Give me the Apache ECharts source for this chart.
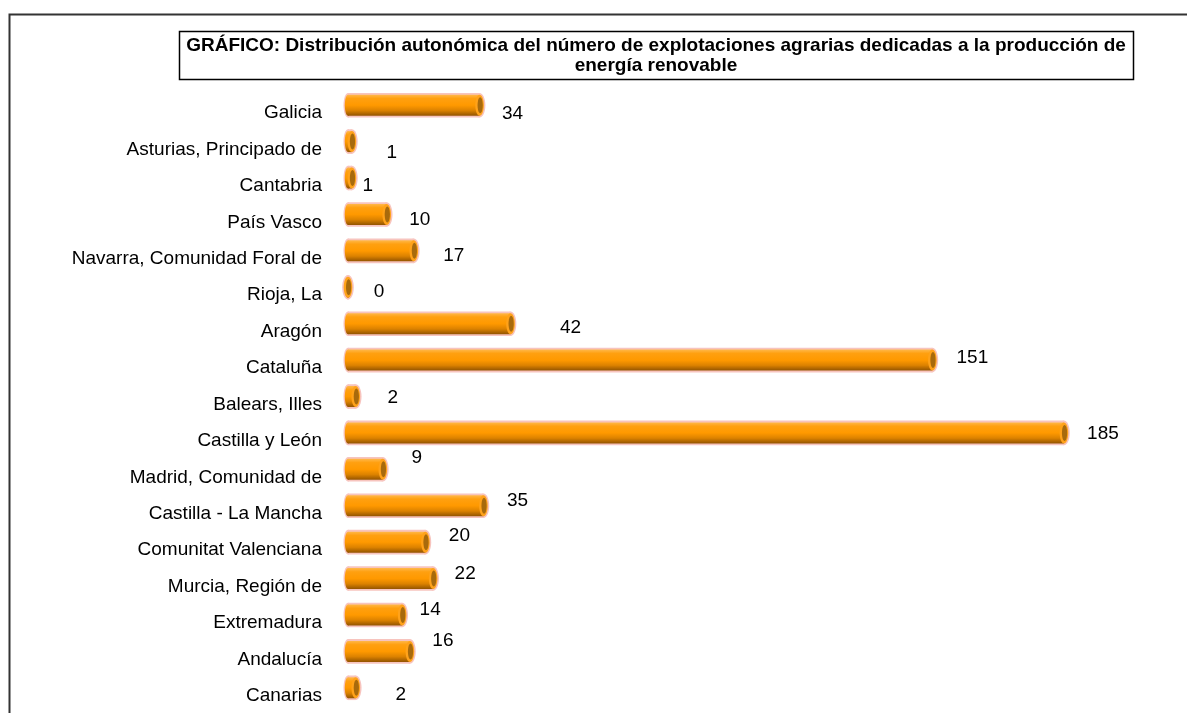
<!DOCTYPE html>
<html>
<head>
<meta charset="utf-8">
<script src="https://cdn.jsdelivr.net/npm/echarts@6/dist/echarts.min.js"></script>
<style>
html,body{margin:0;padding:0;background:#fff;}
#chart{width:1187px;height:713px;}
</style>
</head>
<body>
<div id="chart"></div>
<script>
const categories = [
  "Galicia", "Asturias, Principado de", "Cantabria", "País Vasco",
  "Navarra, Comunidad Foral de", "Rioja, La", "Aragón", "Cataluña",
  "Balears, Illes", "Castilla y León", "Madrid, Comunidad de",
  "Castilla - La Mancha", "Comunitat Valenciana", "Murcia, Región de",
  "Extremadura", "Andalucía", "Canarias"
];
const values = [34, 1, 1, 10, 17, 0, 42, 151, 2, 185, 9, 35, 20, 22, 14, 16, 2];
const titleText = "GRÁFICO: Distribución autonómica del número de explotaciones agrarias dedicadas a la producción de\nenergía renovable";

// Label nudges (dx, dy in px from the bar end) mimicking the original label placement
const labelNudges = [
  [33, 9], [40, 11], [16, 8], [33, 5], [40, 5], [31, 5], [60, 4], [40, -2],
  [37, 1], [39, 1], [34, -12], [34, -5], [34, -6], [32, -5], [28, -5], [33, -11], [45, 7]
];

const FONT = '"Liberation Sans", Arial, sans-serif';
const FS = 19;

const chart = echarts.init(document.getElementById('chart'), null, {renderer: 'canvas'});

const bodyGrad = new echarts.graphic.LinearGradient(0, 0, 0, 1, [
  {offset: 0, color: '#FFB84A'},
  {offset: 0.18, color: '#FFA010'},
  {offset: 0.5, color: '#FF9900'},
  {offset: 0.75, color: '#DC8200'},
  {offset: 1, color: '#935400'}
]);

function renderItem(params, api) {
  const idx = params.dataIndex;
  const v = api.value(0);
  const c = api.value(1);
  const p0 = api.coord([0, c]);
  const p1 = api.coord([v, c]);
  const h = 21;
  const cy = p0[1];
  const x0 = p0[0];
  const x1 = p1[0];
  const glow = '#F7C4BE';
  const children = [];
  children.push({type: 'ellipse', shape: {cx: x0, cy: cy, rx: 4.5, ry: h / 2 + 1.8}, style: {fill: glow}});
  if (x1 > x0) children.push({type: 'rect', shape: {x: x0, y: cy - h / 2 - 1.8, width: x1 - x0, height: h + 3.6}, style: {fill: glow}});
  children.push({type: 'ellipse', shape: {cx: x1, cy: cy, rx: 5.8, ry: h / 2 + 1.8}, style: {fill: glow}});
  children.push({type: 'ellipse', shape: {cx: x0, cy: cy, rx: 3.2, ry: h / 2}, style: {fill: bodyGrad}});
  if (x1 > x0) children.push({type: 'rect', shape: {x: x0, y: cy - h / 2, width: x1 - x0, height: h}, style: {fill: bodyGrad}});
  children.push({type: 'ellipse', shape: {cx: x1, cy: cy, rx: 4.3, ry: h / 2}, style: {fill: '#FFA21A'}});
  children.push({type: 'ellipse', shape: {cx: x1 + 0.6, cy: cy, rx: 2.6, ry: h / 2 - 2.5}, style: {fill: '#A86A0C'}});
  const n = labelNudges[idx] || [30, 0];
  children.push({
    type: 'text',
    style: {
      x: x1 + n[0], y: cy + n[1], text: String(v),
      align: 'center', verticalAlign: 'middle',
      font: FS + 'px ' + FONT, fill: '#000'
    }
  });
  return {type: 'group', children: children};
}

const option = {
  backgroundColor: '#fff',
  animation: false,
  title: {
    text: titleText,
    left: 656,
    top: 36,
    padding: 0,
    textAlign: 'center',
    textStyle: {
      fontFamily: FONT,
      fontSize: FS,
      fontWeight: 'bold',
      color: '#000',
      lineHeight: 20,
      align: 'center'
    }
  },
  graphic: [
    {type: 'polyline', shape: {points: [[9.5, 713], [9.5, 14.5], [1187, 14.5]]}, style: {stroke: '#333', lineWidth: 2, fill: null}, silent: true},
    {type: 'rect', shape: {x: 179.5, y: 31.5, width: 954, height: 48}, style: {stroke: '#000', lineWidth: 1.5, fill: null}, silent: true}
  ],
  grid: {left: 348, top: 87, width: 774, height: 619, containLabel: false},
  xAxis: {type: 'value', min: 0, max: 200, show: false},
  yAxis: {
    type: 'category', data: categories, inverse: true,
    axisLine: {show: false}, axisTick: {show: false}, splitLine: {show: false},
    axisLabel: {
      margin: 26,
      color: '#000',
      fontSize: FS,
      fontFamily: FONT,
      verticalAlign: 'top',
      lineHeight: 16
    }
  },
  series: [{
    type: 'custom',
    renderItem: renderItem,
    encode: {x: 0, y: 1},
    data: values.map((v, i) => [v, i]),
    clip: false
  }]
};
chart.setOption(option);
</script>
</body>
</html>
